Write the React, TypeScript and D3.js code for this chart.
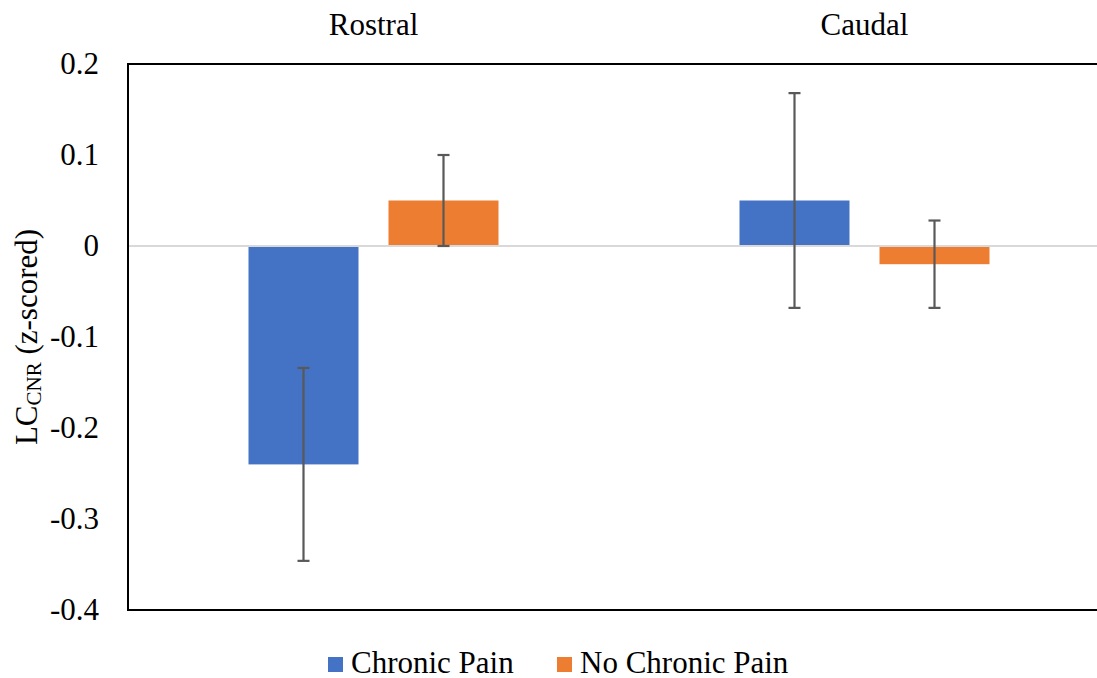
import { useMemo } from "react";
import * as d3 from "d3";

const width = 1097;
const height = 678;
const margin = { top: 64, right: -13, bottom: 68, left: 128 };

// data
const regions = ["Rostral", "Caudal"];
const groups = ["Chronic Pain", "No Chronic Pain"];
const chronicMean = [-0.24, 0.05];
const chronicErr = [0.106, 0.118];
const noChronicMean = [0.05, -0.02];
const noChronicErr = [0.05, 0.048];
const yTicks = [0.2, 0.1, 0, -0.1, -0.2, -0.3, -0.4];
const colors = ["#4472C4", "#ED7D31"];

const font = "'Liberation Serif', 'DejaVu Serif', 'Times New Roman', serif";
const fs = 31;

const App = () => {
  const { xScale, xInner, yScale, bars } = useMemo(() => {
    const xScale = d3
      .scaleBand<string>()
      .domain(regions)
      .range([margin.left, width - margin.right]);

    // bars 110 wide with a 30 gap, group 250 wide
    const xInner = d3
      .scaleBand<string>()
      .domain(groups)
      .range([0, 250])
      .paddingInner(30 / 140);

    const yScale = d3
      .scaleLinear()
      .domain([-0.4, 0.2])
      .range([height - margin.bottom, margin.top]);

    const bars = regions.flatMap((r, i) => [
      { region: r, group: groups[0], mean: chronicMean[i], err: chronicErr[i], color: colors[0] },
      { region: r, group: groups[1], mean: noChronicMean[i], err: noChronicErr[i], color: colors[1] },
    ]);

    return { xScale, xInner, yScale, bars };
  }, []);

  const groupOffset = (xScale.bandwidth() - 250) / 2;
  const plotRight = width - margin.right;
  const fmt = (t: number) => (t === 0 ? "0" : d3.format(".1f")(t).replace("\u2212", "-"));

  return (
    <svg
      width={width}
      height={height}
      style={{ position: "absolute", left: 0, top: 0, display: "block", fontFamily: font }}
    >
      <rect width={width} height={height} fill="#fff" />

      {/* bars */}
      {bars.map((b) => {
        const x = (xScale(b.region) ?? 0) + groupOffset + (xInner(b.group) ?? 0);
        const y0 = yScale(0);
        const y1 = yScale(b.mean);
        return (
          <rect
            key={b.region + b.group}
            x={x}
            y={Math.min(y0, y1)}
            width={xInner.bandwidth()}
            height={Math.abs(y1 - y0)}
            fill={b.color}
          />
        );
      })}

      {/* zero line */}
      <line
        x1={margin.left}
        x2={plotRight}
        y1={yScale(0)}
        y2={yScale(0)}
        stroke="#d9d9d9"
        strokeWidth={2}
      />

      {/* error bars */}
      {bars.map((b) => {
        const cx =
          (xScale(b.region) ?? 0) + groupOffset + (xInner(b.group) ?? 0) + xInner.bandwidth() / 2;
        const yt = yScale(b.mean + b.err);
        const yb = yScale(b.mean - b.err);
        return (
          <g key={"e" + b.region + b.group} stroke="#595959" strokeWidth={2.2}>
            <line x1={cx} x2={cx} y1={yt} y2={yb} />
            <line x1={cx - 6} x2={cx + 6} y1={yt} y2={yt} />
            <line x1={cx - 6} x2={cx + 6} y1={yb} y2={yb} />
          </g>
        );
      })}

      {/* plot frame */}
      <rect
        x={margin.left}
        y={margin.top}
        width={plotRight - margin.left}
        height={height - margin.bottom - margin.top}
        fill="none"
        stroke="#000"
        strokeWidth={2}
      />

      {/* y tick labels */}
      {yTicks.map((t) => (
        <text
          key={t}
          x={99}
          y={yScale(t)}
          dy="0.33em"
          textAnchor="end"
          fontSize={fs}
          fill="#000"
        >
          {fmt(t)}
        </text>
      ))}

      {/* category labels on top */}
      {regions.map((r) => (
        <text
          key={r}
          x={(xScale(r) ?? 0) + xScale.bandwidth() / 2}
          y={34.5}
          textAnchor="middle"
          fontSize={fs}
          fill="#000"
        >
          {r}
        </text>
      ))}

      {/* y axis title */}
      <text
        transform={`translate(37, ${(margin.top + height - margin.bottom) / 2}) rotate(-90)`}
        textAnchor="middle"
        fontSize={fs}
        fill="#000"
      >
        LC
        <tspan fontSize={21} dy={4}>CNR</tspan>
        <tspan dy={-4}> (z-scored)</tspan>
      </text>

      {/* legend */}
      {groups.map((g, i) => {
        const lx = [328, 557][i];
        return (
          <g key={g}>
            <rect x={lx} y={657} width={15} height={15} fill={colors[i]} />
            <text x={lx + 23} y={673} fontSize={fs} fill="#000">
              {g}
            </text>
          </g>
        );
      })}
    </svg>
  );
};

export default App;
